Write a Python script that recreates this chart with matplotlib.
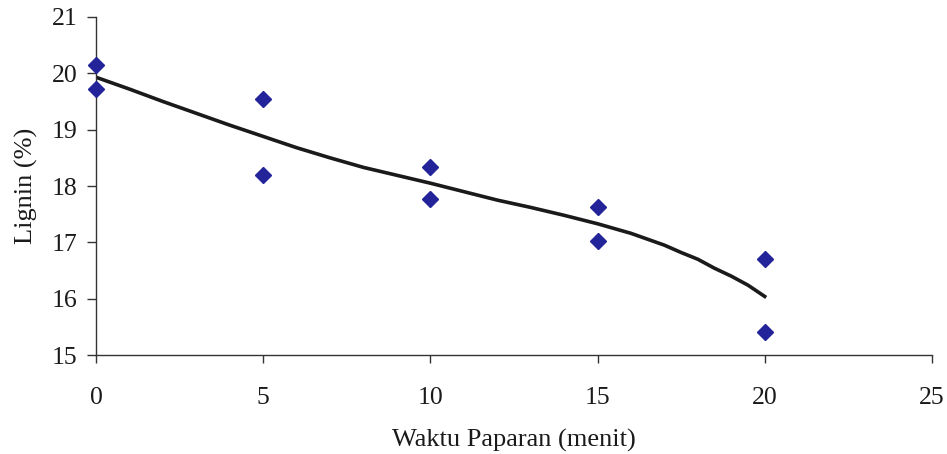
import numpy as np
import matplotlib.pyplot as plt

plt.rcParams['font.family'] = ['Liberation Serif', 'DejaVu Serif']

# observed data
waktu = [0, 0, 5, 5, 10, 10, 15, 15, 20, 20]
lignin = [20.15, 19.72, 19.55, 18.20, 18.33, 17.77, 17.63, 17.03, 16.70, 15.40]

# fitted curve
kurva_x = [0, 1, 2, 3, 4, 5, 6, 7, 8, 9, 10, 11, 12, 13, 14, 15, 16, 17, 17.5, 18, 18.5, 19, 19.5, 20]
kurva_y = [19.93, 19.72, 19.50, 19.29, 19.08, 18.88, 18.68, 18.50, 18.33, 18.19, 18.05, 17.90, 17.75,
           17.62, 17.48, 17.33, 17.16, 16.95, 16.82, 16.70, 16.54, 16.40, 16.24, 16.04]

fig = plt.figure(figsize=(9.47, 4.54), dpi=100)
ax = fig.add_axes([0.1014, 0.218, 0.8826, 0.7446])

ax.plot(kurva_x, kurva_y, color='#1a1a1a', lw=2.6, zorder=2)
ax.plot(waktu, lignin, 'D', color='#23239a', markersize=8.2, zorder=3, clip_on=False)

ax.set_xlim(0, 25)
ax.set_ylim(15, 21)
ax.set_xticks([0, 5, 10, 15, 20, 25])
ax.set_yticks([15, 16, 17, 18, 19, 20, 21])

for s in ['top', 'right']:
    ax.spines[s].set_visible(False)
for s in ['left', 'bottom']:
    ax.spines[s].set_color('#333333')
    ax.spines[s].set_linewidth(1.0)

ax.tick_params(axis='y', direction='out', length=6.5, width=1, color='#333333', labelsize=18.5, pad=7)
ax.tick_params(axis='x', direction='out', length=6, width=1, color='#333333', labelsize=18.5, pad=17)

ax.set_xlabel('Waktu Paparan (menit)', fontsize=19, labelpad=14, color='#1a1a1a')
ax.set_ylabel('Lignin (%)', fontsize=19, labelpad=10, color='#1a1a1a')
for lbl in ax.get_xticklabels() + ax.get_yticklabels():
    lbl.set_color('#1a1a1a')

fig.savefig('out.png', dpi=100)
